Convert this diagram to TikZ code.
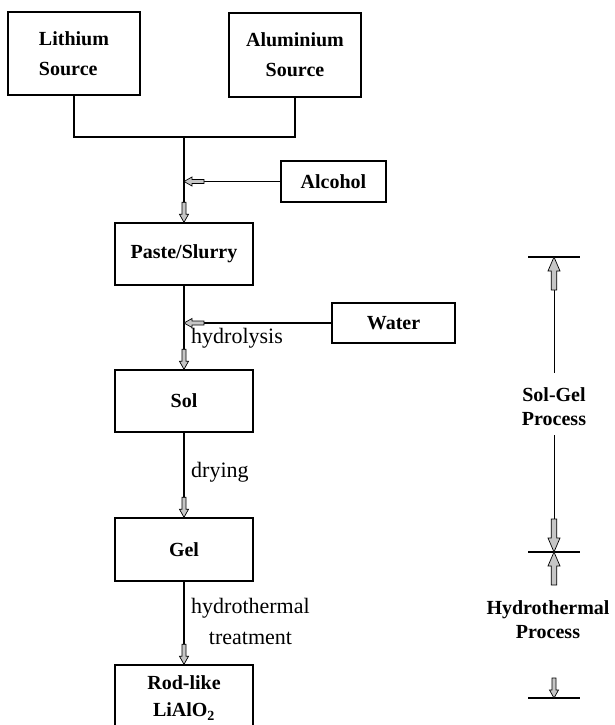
\documentclass[tikz,border=0pt]{standalone}
\usepackage{fontspec}
\setmainfont{Liberation Serif}
\usetikzlibrary{positioning}
\tikzset{>=latex}
\tikzset{
  procbox/.style={draw, line width=1.4pt, inner sep=0pt, font=\bfseries\fontsize{20}{24}\selectfont},
  flowline/.style={line width=1.2pt},
  scaleline/.style={line width=0.7pt},
  scalebar/.style={line width=1.4pt},
  steplabel/.style={inner sep=0pt, font=\fontsize{22}{31}\selectfont, align=center},
  phaselabel/.style={inner sep=0pt, font=\bfseries\fontsize{20}{24}\selectfont, align=center},
  tipsmall/.pic={\draw[line width=0.7pt, fill=gray!45] (0,0) -- (-8,-4.5) -- (-8,-2) -- (-20,-2) -- (-20,2) -- (-8,2) -- (-8,4.5) -- cycle;},
  tiplarge/.pic={\draw[line width=0.7pt, fill=gray!45] (0,0) -- (-14,-6) -- (-14,-2.8) -- (-33,-2.8) -- (-33,2.8) -- (-14,2.8) -- (-14,6) -- cycle;}
}
\begin{document}
\begin{tikzpicture}[x=1pt, y=-1pt]
\useasboundingbox (0,0) rectangle (615,725);
\clip (0,0) rectangle (615,725);
% starting materials
\node[procbox, minimum width=132pt, minimum height=83pt, align=left] (lithium) at (74,53.5) {Lithium\\[6pt]Source};
\node[procbox, minimum width=132pt, minimum height=84pt, align=center] (aluminium) at (295,55) {Aluminium\\[6pt]Source};
\node[procbox, minimum width=105pt, minimum height=41pt] (alcohol) at (333.5,181.5) {Alcohol};
\node[procbox, minimum width=123pt, minimum height=40pt] (water) at (393.5,323) {Water};
% main chain
\node[procbox, minimum width=138pt, minimum height=62pt] (paste) at (184,254) {Paste/Slurry};
\node[procbox, minimum width=138pt, minimum height=62pt] (sol) at (184,401) {Sol};
\node[procbox, minimum width=138pt, minimum height=63pt] (gel) at (184,549.5) {Gel};
\node[procbox, minimum width=138pt, minimum height=66pt, align=center] (rodlike) at (184,698) {Rod-like\\[3pt]LiAlO\textsubscript{2}};
\coordinate (join) at (184,137);
\draw[flowline] (lithium.south) |- (join) -| (aluminium.south);
\draw[flowline] (join) -- (paste.north);
\draw[flowline] (alcohol.west) -- (alcohol.west -| join);
\draw[flowline] (paste.south) -- (sol.north);
\draw[flowline] (water.west) -- (water.west -| paste.south);
\draw[flowline] (sol.south) -- (gel.north);
\draw[flowline] (gel.south) -- (rodlike.north);
\pic[rotate=-90] at (paste.north) {tipsmall};
\pic[rotate=180] at (alcohol.west -| join) {tipsmall};
\pic[rotate=-90] at (sol.north) {tipsmall};
\pic[rotate=180] at (water.west -| paste.south) {tipsmall};
\pic[rotate=-90] at (gel.north) {tipsmall};
\pic[rotate=-90] at (rodlike.north) {tipsmall};
\node[steplabel, anchor=base west] (hydrolysis) at (191,343) {hydrolysis};
\node[steplabel, anchor=base west] (drying) at (191,477) {drying};
\node[steplabel, anchor=west] (treatment) at (191,621) {hydrothermal\\treatment};
% process scale
\coordinate (sgtop) at (554,257);
\coordinate (sgmid) at (554,552);
\coordinate (htbot) at (554,698);
\draw[scalebar] (528,257) -- (580,257);
\draw[scalebar] (528,552) -- (580,552);
\draw[scalebar] (528,698) -- (580,698);
\node[phaselabel] (solgel) at (554,407) {Sol-Gel\\Process};
\node[phaselabel] (hydro) at (548,620) {Hydrothermal\\Process};
\draw[scaleline] (sgtop) -- (554,373);
\draw[scaleline] (554,435) -- (sgmid);
\pic[rotate=90] at (sgtop) {tiplarge};
\pic[rotate=-90] at (sgmid) {tiplarge};
\pic[rotate=90] at (sgmid) {tiplarge};
\pic[rotate=-90] at (htbot) {tipsmall};
\end{tikzpicture}
\end{document}
